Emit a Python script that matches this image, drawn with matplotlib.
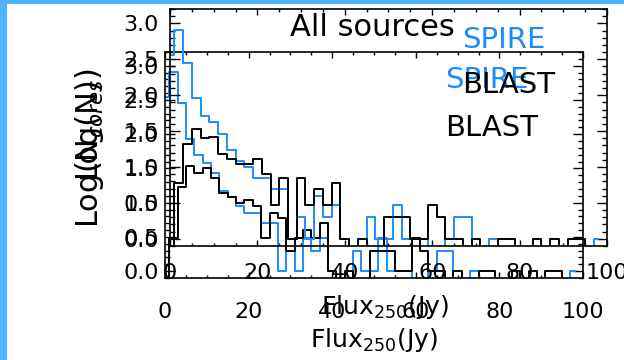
import numpy as np
import matplotlib
matplotlib.use("Agg")
import matplotlib.pyplot as plt
from matplotlib.patches import Rectangle
from matplotlib.ticker import MultipleLocator

# ---------------- data (counts per 2 Jy bin, centres 0,2,...,98) ----------------
bin_centres = np.arange(0, 100, 2)

# "All sources" panel
all_spire = [363, 813, 282, 91, 52, 43, 29, 17, 12, 10,
             7, 7, 5, 5, 1, 2, 1, 4, 2, 3,
             1, 0, 0, 2, 1, 1, 3, 1, 1, 1,
             0, 0, 1, 2, 2, 0, 0, 1, 0, 0,
             0, 0, 0, 0, 0, 0, 0, 0, 0, 1]
all_blast = [0, 6, 21, 34, 25, 26, 15, 13, 11, 11,
             13, 8, 3, 7, 1, 7, 3, 5, 3, 6,
             1, 0, 1, 0, 0, 2, 2, 2, 1, 1,
             3, 2, 1, 1, 0, 1, 0, 0, 1, 1,
             0, 0, 1, 0, 1, 0, 1, 1, 0, 0]

# cores panel
core_spire = [347, 812, 285, 85, 50, 38, 27, 15, 12, 9,
              7, 7, 5, 5, 1, 2, 1, 3, 2, 3,
              1, 0, 0, 2, 1, 1, 3, 1, 1, 1,
              0, 0, 1, 2, 2, 0, 0, 1, 0, 0,
              0, 0, 0, 0, 0, 0, 0, 0, 0, 1]
core_blast = [0, 3, 17, 34, 27, 32, 23, 14, 12, 10,
              11, 9, 3, 7, 6, 2, 3, 4, 3, 5,
              1, 0, 1, 0, 0, 2, 2, 2, 1, 1,
              3, 2, 1, 1, 0, 1, 0, 0, 1, 1,
              0, 0, 1, 0, 1, 0, 1, 1, 0, 0]

x_ticks = [0, 20, 40, 60, 80, 100]
y_ticks = [0.0, 0.5, 1.0, 1.5, 2.0, 2.5, 3.0]

SPIRE_C = "#1a8cff"
BLAST_C = "black"
FRAME_C = "#4db5ff"

W, H = 624, 360
fig = plt.figure(figsize=(W / 100, H / 100), dpi=100)
fig.patch.set_facecolor("white")
fig.add_artist(Rectangle((0, 0), 7 / W, 1, transform=fig.transFigure,
                         color=FRAME_C, lw=0, zorder=0))
fig.add_artist(Rectangle((0, 1 - 4 / H), 1, 4 / H, transform=fig.transFigure,
                         color=FRAME_C, lw=0, zorder=0))


def logn(counts):
    c = np.asarray(counts, dtype=float)
    out = np.full_like(c, -1.0)
    out[c > 0] = np.log10(c[c > 0])
    return out


def panel(rect, spire, blast, ylabel, xlabel_xy, ylabel_px, leg_xy,
          ypad, xpad, title=None):
    ax = fig.add_axes(rect)
    ax.set_facecolor("none")
    ax.plot(bin_centres, logn(spire), drawstyle="steps-mid", color=SPIRE_C, lw=1.4)
    ax.plot(bin_centres, logn(blast), drawstyle="steps-mid", color=BLAST_C, lw=1.4)
    ax.set_xlim(0, 100)
    ax.set_ylim(-0.1, 3.2)
    ax.set_xticks(x_ticks)
    ax.set_yticks(y_ticks)
    ax.set_yticklabels([f"{v:.1f}" for v in y_ticks])
    ax.xaxis.set_minor_locator(MultipleLocator(5))
    ax.yaxis.set_minor_locator(MultipleLocator(0.1))
    for s in ax.spines.values():
        s.set_linewidth(1.2)
    ax.tick_params(which="both", direction="in", top=True, right=True,
                   labelsize=16, width=1.0)
    ax.tick_params(axis="x", which="major", length=4, pad=xpad)
    ax.tick_params(axis="x", which="minor", length=2)
    ax.tick_params(axis="y", which="major", length=7, pad=ypad)
    ax.tick_params(axis="y", which="minor", length=3.5)
    ax.set_xlabel("Flux$_{250}$(Jy)", fontsize=18)
    ax.xaxis.set_label_coords(*xlabel_xy)
    ax.xaxis.label.set_va("center")
    # y title positioned in figure pixels (converted to axes fraction)
    bb = ax.get_position()
    lx = (ylabel_px[0] / W - bb.x0) / bb.width
    ly = ((1 - ylabel_px[1] / H) - bb.y0) / bb.height
    ax.set_ylabel(ylabel, fontsize=22)
    ax.yaxis.set_label_coords(lx, ly)
    ax.yaxis.label.set_va("center")
    ax.text(leg_xy[0], leg_xy[1], "SPIRE", color=SPIRE_C, fontsize=21,
            transform=ax.transAxes, va="center", ha="left")
    ax.text(leg_xy[0], leg_xy[2], "BLAST", color=BLAST_C, fontsize=21,
            transform=ax.transAxes, va="center", ha="left")
    if title:
        ax.text(0.462, 0.92, title, fontsize=22, transform=ax.transAxes,
                ha="center", va="center")
    return ax


# cores panel (lower-left)
axB = panel([165 / W, 1 - 278 / H, 418 / W, 226 / H], core_spire, core_blast,
            "Log(N$_{cores}$)", (0.5, -0.274), (90, 148), (0.67, 0.876, 0.664),
            ypad=4.5, xpad=17)
# all-sources panel
axA = panel([170 / W, 1 - 246 / H, 437 / W, 237 / H], all_spire, all_blast,
            "Log(N)", (0.492, -0.257), (86, 127), (0.668, 0.869, 0.679),
            ypad=8, xpad=12, title="All sources")

fig.savefig("out.png", dpi=100)
